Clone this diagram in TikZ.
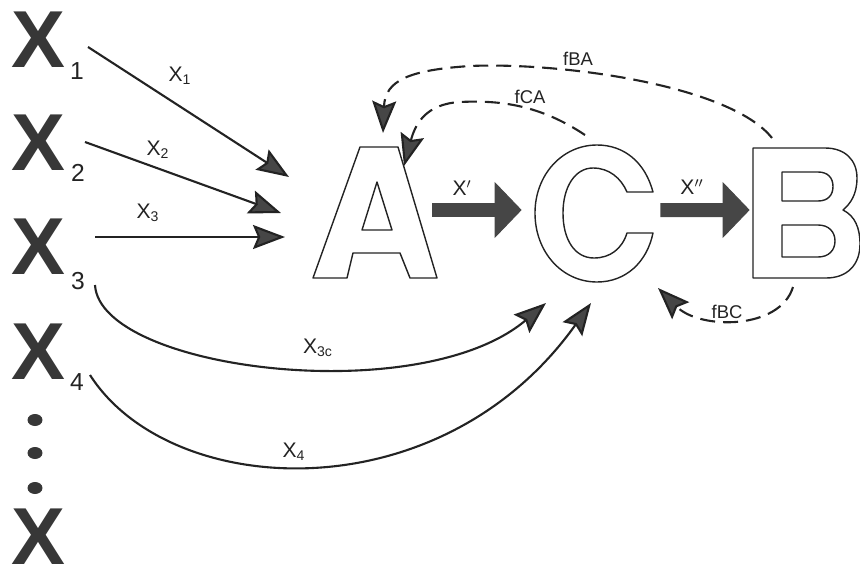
\documentclass[tikz,border=0pt]{standalone}
\usepackage{fontspec}
\setmainfont{Liberation Sans}
\usetikzlibrary{arrows.meta, positioning, calc, fit}
\definecolor{inkdark}{RGB}{35,35,35}
\definecolor{inkfill}{RGB}{70,70,70}
\definecolor{inkx}{RGB}{55,55,55}
\tikzset{
  bigx/.style={inner sep=0pt, text=inkx, font=\fontsize{46}{46}\selectfont\bfseries},
  xnum/.style={inner sep=0pt, text=inkdark, font=\fontsize{14}{14}\selectfont},
  flowlab/.style={inner sep=0pt, text=inkdark, font=\fontsize{12}{12}\selectfont},
  fblab/.style={inner sep=0pt, text=inkdark, font=\fontsize{10.5}{10.5}\selectfont},
  letterbox/.style={inner sep=0pt, draw=none},
  letter/.style={draw=inkdark, line width=0.8pt, line join=round},
  arrow/.style={-{Stealth[length=0.64cm, width=0.48cm, inset=0.1cm, fill=inkfill]}, line width=1.2pt, draw=inkdark},
  fbarrow/.style={arrow, dash pattern=on 0.3cm off 0.16cm},
  fatarrow/.style={-{Triangle[length=0.54cm, width=1.12cm, line width=0.6pt, fill=inkfill]}, line width=0.28cm, draw=inkfill},
}

\begin{document}
\begin{tikzpicture}[x=0.02cm, y=-0.02cm]
\useasboundingbox (0,0) rectangle (860,575);

% inputs on the left
\node[bigx] (X1) at (38,40) {X};
\node[bigx] (X2) at (38,143) {X};
\node[bigx] (X3) at (38,247) {X};
\node[bigx] (X4) at (38,352) {X};
\node[bigx] (Xn) at (38,537) {X};
\node[xnum] (n1) at (77,71) {1};
\node[xnum] (n2) at (78,173) {2};
\node[xnum] (n3) at (78,281) {3};
\node[xnum] (n4) at (77,382) {4};
\fill[inkx] (35,420) ellipse [x radius=0.15cm, y radius=0.12cm];
\fill[inkx] (35,453) ellipse [x radius=0.15cm, y radius=0.12cm];
\fill[inkx] (35,488) ellipse [x radius=0.15cm, y radius=0.12cm];

% the three stages
\node[letterbox, fit={(313,147) (437,278)}] (A) {};
\node[letterbox, fit={(535,145) (653,282)}] (C) {};
\node[letterbox, fit={(753,148) (860,278)}] (B) {};
\draw[letter] (313,278) -- (360,147) -- (398,147) -- (437,278) -- (410,278) -- (400,253)
  -- (353,253) -- (347,278) -- cycle
  (377,182) -- (362,230) -- (392,230) -- cycle;
\draw[letter] (653,192) .. controls (645,162) and (624,145) .. (597,145)
  .. controls (562,145) and (535,175) .. (535,213)
  .. controls (535,252) and (562,282) .. (597,282)
  .. controls (626,282) and (647,262) .. (653,233) -- (627,233)
  .. controls (622,249) and (610,258) .. (594,258)
  .. controls (575,258) and (563,240) .. (563,213)
  .. controls (563,187) and (575,168) .. (593,168)
  .. controls (609,168) and (621,178) .. (627,192) -- cycle;
\draw[letter] (753,148) -- (825,148) .. controls (845,148) and (857,160) .. (857,178)
  .. controls (857,195) and (850,204) .. (843,210)
  .. controls (855,216) and (860,228) .. (860,244)
  .. controls (860,265) and (847,278) .. (826,278) -- (753,278) -- cycle
  (782,172) -- (818,172) .. controls (828,172) and (833,178) .. (833,186.5)
  .. controls (833,195) and (828,201) .. (818,201) -- (782,201) -- cycle
  (782,225) -- (818,225) .. controls (829,225) and (835,232) .. (835,241)
  .. controls (835,250) and (829,257) .. (818,257) -- (782,257) -- cycle;

% connector ends
\coordinate (x1out) at (88,47);
\coordinate (x2out) at (85,142);
\coordinate (x3out) at (95,237);
\coordinate (x3cout) at (95,285);
\coordinate (x4out) at (90,375);
\coordinate (a1in) at (289,177);
\coordinate (a2in) at (281,213);
\coordinate (a3in) at (285,237);
\coordinate (c1in) at (546,303);
\coordinate (c2in) at (591,303);

% inputs
\draw[arrow] (x1out) -- (a1in);
\draw[arrow] (x2out) -- (a2in);
\draw[arrow] (x3out) -- (a3in);
\draw[arrow] (x3cout) .. controls (100,370) and (420,410) .. (c1in);
\draw[arrow] (x4out) .. controls (170,500) and (440,515) .. (c2in);
\node[flowlab] (l1) at (180,76) {X\textsubscript{1}};
\node[flowlab] (l2) at (158,150) {X\textsubscript{2}};
\node[flowlab] (l3) at (148,213) {X\textsubscript{3}};
\node[flowlab] (l3c) at (318,348) {X\textsubscript{3c}};
\node[flowlab] (l4) at (294,452) {X\textsubscript{4}};

% main flow
\draw[fatarrow] ($(A.east)+(-5,-2.5)$) -- ($(C.west)+(-13,-3.5)$);
\draw[fatarrow] ($(C.east)+(7,-3.5)$) -- ($(B.west)+(-3,-3)$);
\node[flowlab] (lx1) at (462,188) {X$'$};
\node[flowlab] (lx2) at (692,187) {X$''$};

% feedback
\coordinate (bba) at (772,138);
\coordinate (abt) at (383,133);
\coordinate (cca) at (585,135);
\coordinate (act) at (404,166);
\coordinate (bbc) at (793,287);
\coordinate (cbt) at (658,288);
\draw[fbarrow] (bba) .. controls (730,85) and (560,62) .. (470,66)
  .. controls (410,70) and (385,80) .. (abt);
\draw[fbarrow] (cca) .. controls (540,105) and (500,100) .. (460,102)
  .. controls (425,104) and (415,125) .. (act);
\draw[fbarrow] (bbc) .. controls (780,330) and (700,330) .. (cbt);
\node[fblab] (lba) at (578,59) {fBA};
\node[fblab] (lca) at (530,97) {fCA};
\node[fblab] (lbc) at (727,312) {fBC};
\end{tikzpicture}
\end{document}
